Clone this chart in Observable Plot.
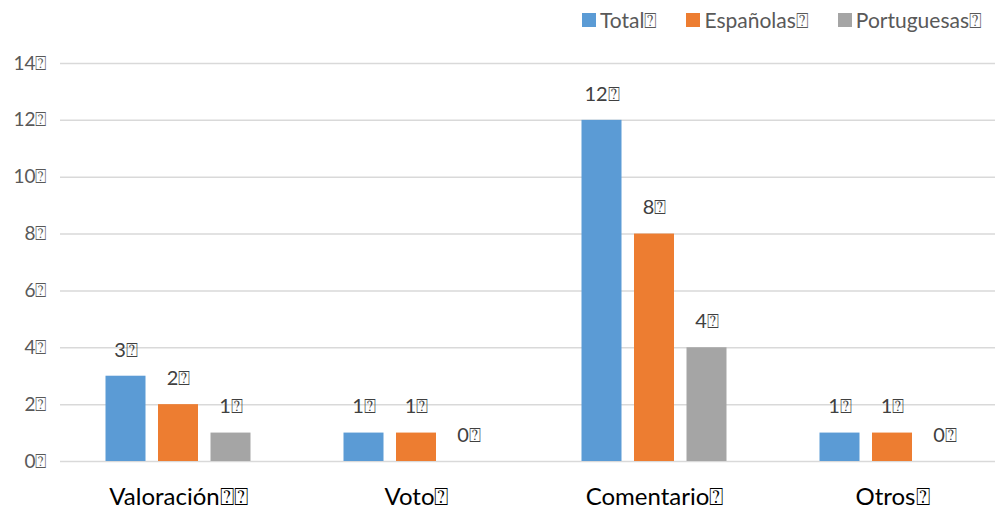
<!DOCTYPE html>
<html>
<head>
<meta charset="utf-8">
<script src="https://cdn.jsdelivr.net/npm/d3@7"></script>
<script src="https://cdn.jsdelivr.net/npm/@observablehq/plot@0.6"></script>
<style>
  html, body { margin: 0; padding: 0; background: #fff; }
  #wrap { position: relative; width: 995px; height: 509px; overflow: hidden; }
  #legend { position: absolute; left: 582px; top: 7px; display: flex; font: 21px Lato, "Open Sans", sans-serif; color: #595959; }
  #legend .item { display: flex; align-items: center; margin-right: 29px; }
  #legend .sw { width: 14px; height: 14px; margin-right: 4px; }
</style>
</head>
<body>
<div id="wrap"><div id="legend"></div></div>
<script>
const B = "\u2370";
const categories = ["Valoración", "Voto", "Comentario", "Otros"];
const categorySuffix = [B + B, B, B, B];
const series = ["Total", "Españolas", "Portuguesas"];
const colors = ["#5B9BD5", "#ED7D31", "#A5A5A5"];
const total = [3, 1, 12, 1];
const espanolas = [2, 1, 8, 1];
const portuguesas = [1, 0, 4, 0];
const yTicks = [0, 2, 4, 6, 8, 10, 12, 14];

const values = [total, espanolas, portuguesas];
const font = 'Lato, "Open Sans", sans-serif';
const step = 52.5;
const barW = 40;
const bandW = (1011 - 59) / categories.length;
const inset = (bandW - barW) / 2;

const marks = [
  Plot.ruleY(yTicks, {stroke: "#D9D9D9", strokeWidth: 1.5}),
  Plot.text(yTicks, {y: d => d, text: d => d + B, frameAnchor: "left", dx: -14, textAnchor: "end", fontSize: 19, fill: "#595959", fontFamily: font}),
  Plot.text(categories, {x: d => d, text: (d, i) => d + categorySuffix[i], y: 0, dy: 36, fontSize: 24, fill: "#000", fontFamily: font})
];
series.forEach((s, si) => {
  const rows = categories.map((c, i) => ({category: c, value: values[si][i]}));
  const dx = (si - 1) * step;
  marks.push(Plot.barY(rows, {x: "category", y: "value", fill: colors[si], dx, insetLeft: inset, insetRight: inset}));
  marks.push(Plot.text(rows, {x: "category", y: "value", text: d => d.value + B, dx, dy: -26, fontSize: 20, fill: "#404040", fontFamily: font}));
});

const chart = Plot.plot({
  width: 995,
  height: 509,
  marginLeft: 60,
  marginRight: 0,
  marginTop: 63,
  marginBottom: 48,
  x: {domain: categories, range: [59, 1011], padding: 0, axis: null},
  y: {domain: [0, 14], range: [461, 63], axis: null},
  marks
});
document.getElementById("wrap").prepend(chart);

const legend = document.getElementById("legend");
series.forEach((s, i) => {
  const item = document.createElement("div");
  item.className = "item";
  const sw = document.createElement("span");
  sw.className = "sw";
  sw.style.background = colors[i];
  const t = document.createElement("span");
  t.textContent = s + B;
  item.appendChild(sw);
  item.appendChild(t);
  legend.appendChild(item);
});
</script>
</body>
</html>
